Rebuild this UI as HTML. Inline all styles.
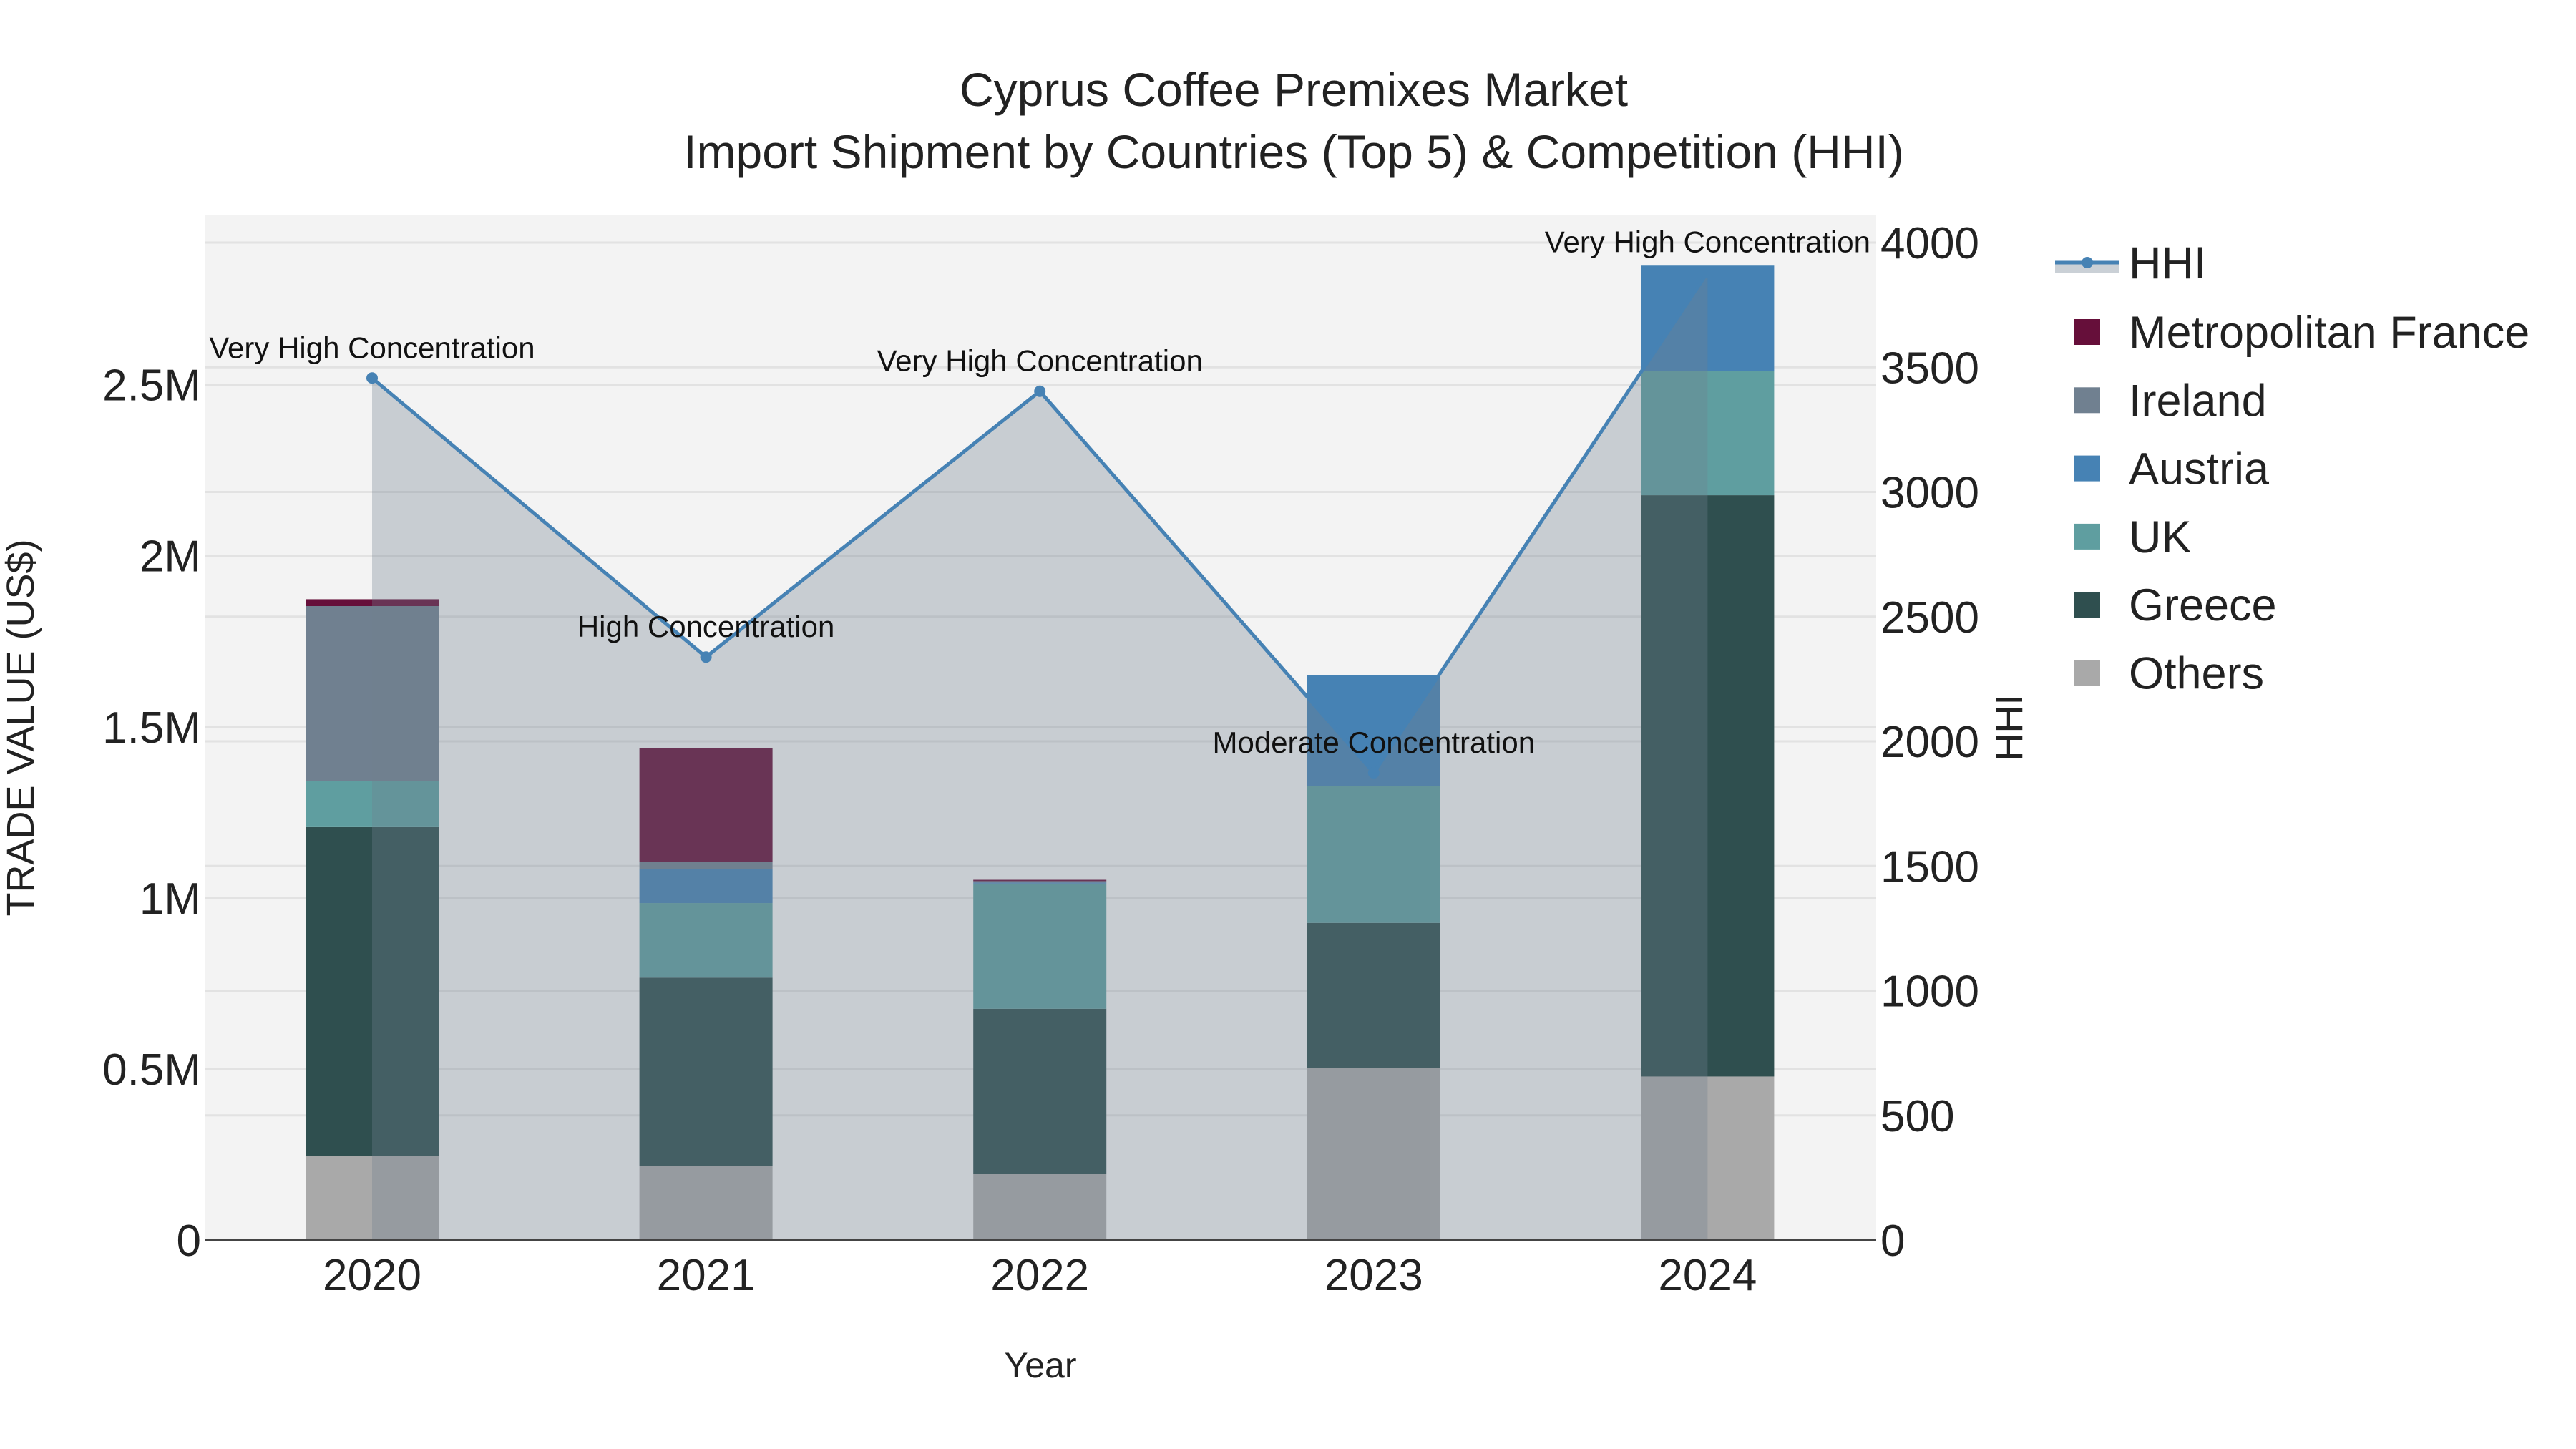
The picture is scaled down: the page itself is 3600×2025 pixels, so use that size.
<!DOCTYPE html>
<html><head><meta charset="utf-8"><style>
html,body{margin:0;padding:0;background:#fff;}
svg{display:block;font-family:"Liberation Sans",Arial,sans-serif;}
</style></head><body>
<svg id="chart" width="3600" height="2025" viewBox="0 0 3600 2025" xmlns="http://www.w3.org/2000/svg">
<rect x="286" y="300" width="2336" height="1433" fill="#f3f3f3"/>
<g id="grid"></g><g id="bars"></g><g id="area"></g><g id="axes"></g><g id="legend"></g>
<text x="1808" y="148" text-anchor="middle" font-size="66" fill="#222">Cyprus Coffee Premixes Market</text>
<text x="1808" y="235" text-anchor="middle" font-size="66" fill="#222">Import Shipment by Countries (Top 5) &amp; Competition (HHI)</text>
<text transform="translate(47,1017) rotate(-90)" text-anchor="middle" font-size="54" fill="#222">TRADE VALUE (US$)</text>
<text transform="translate(2826,1017) rotate(-90)" text-anchor="middle" font-size="54" fill="#222">HHI</text>
<text x="1454" y="1925" text-anchor="middle" font-size="50" fill="#222">Year</text>
</svg>
<script>
const years=["2020","2021","2022","2023","2024"];
const seriesNames=["Others","Greece","UK","Austria","Ireland","Metropolitan France"];
const others=[246000,217000,193000,502000,478000];
const greece=[961000,550000,483000,425000,1699000];
const uk=[135000,218000,366000,400000,362000];
const austria=[0,100000,3000,324000,309000];
const ireland=[511000,20000,4000,0,0];
const france=[20000,333000,4000,0,0];
const hhi=[3457,2338,3404,1874,3881];
const hhiLabels=["Very High Concentration","High Concentration","Very High Concentration","Moderate Concentration","Very High Concentration"];
const yTicks=[0,500000,1000000,1500000,2000000,2500000];
const yTickLabels=["0","0.5M","1M","1.5M","2M","2.5M"];
const y2Ticks=[0,500,1000,1500,2000,2500,3000,3500,4000];
const colors={"Others":"#a9a9a9","Greece":"#2f4f4f","UK":"#5f9ea0","Austria":"#4682b4","Ireland":"#708090","Metropolitan France":"#660f3a"};
const NS="http://www.w3.org/2000/svg";
const L=286,R=2622,T=300,B=1733;
const yMax=2997000,y2Max=4112;
const xs=i=>520+i*466.6;
const y=v=>B-(v/yMax)*(B-T);
const y2=v=>B-(v/y2Max)*(B-T);
function mk(tag,attrs,parent,text){const e=document.createElementNS(NS,tag);for(const k in attrs)e.setAttribute(k,attrs[k]);if(text!==undefined)e.textContent=text;parent.appendChild(e);return e;}
const grid=document.getElementById('grid'),bars=document.getElementById('bars'),area=document.getElementById('area'),axes=document.getElementById('axes'),legend=document.getElementById('legend');
yTicks.forEach((t,i)=>{
  if(t>0){const g=mk('line',{x1:L,x2:R,y1:y(t),y2:y(t),stroke:'#e2e2e2','stroke-width':3},grid);
  
  }
  const tx=mk('text',{x:281,y:y(t)+22,'text-anchor':'end','font-size':62,fill:'#222'},axes,yTickLabels[i]);
  
  
});
y2Ticks.forEach(t=>{
  if(t>0){const g=mk('line',{x1:L,x2:R,y1:y2(t),y2:y2(t),stroke:'#e2e2e2','stroke-width':3},grid);
  
  }
  const tx=mk('text',{x:2628,y:y2(t)+22,'text-anchor':'start','font-size':62,fill:'#222'},axes,String(t));
  
  
});
const data={"Others":others,"Greece":greece,"UK":uk,"Austria":austria,"Ireland":ireland,"Metropolitan France":france};
const bw=186;
years.forEach((yr,i)=>{
  let base=0;
  seriesNames.forEach(s=>{
    const v=data[s][i]; if(v<=0)return;
    const r=mk('rect',{x:xs(i)-bw/2,y:y(base+v),width:bw,height:y(base)-y(base+v),fill:colors[s]},bars);
    
    
    base+=v;
  });
  const tx=mk('text',{x:xs(i),y:1803,'text-anchor':'middle','font-size':62,fill:'#222'},axes,yr);
  
  
});
let pts=hhi.map((v,i)=>xs(i)+','+y2(v)).join(' ');
const poly=mk('polygon',{points:xs(0)+','+B+' '+pts+' '+xs(hhi.length-1)+','+B,fill:'rgba(112,128,144,0.33)'},area);


const line=mk('polyline',{points:pts,fill:'none',stroke:'#4682b4','stroke-width':5},area);


hhi.forEach((v,i)=>{
  const c=mk('circle',{cx:xs(i),cy:y2(v),r:8,fill:'#4682b4'},area);
  
  
  const t=mk('text',{x:xs(i),y:y2(v)-28,'text-anchor':'middle','font-size':42,fill:'#111'},area,hhiLabels[i]);
  
  
});
const zl=mk('line',{x1:L,x2:R,y1:B,y2:B,stroke:'#444','stroke-width':3},axes);


const lg=mk('g',{},legend);


mk('rect',{x:2872,y:367,width:90,height:14,fill:'rgba(112,128,144,0.37)'},lg);
mk('line',{x1:2872,x2:2962,y1:367,y2:367,stroke:'#4682b4','stroke-width':5},lg);
mk('circle',{cx:2917,cy:367,r:8,fill:'#4682b4'},lg);
mk('text',{x:2975,y:389,'font-size':63,fill:'#222'},lg,'HHI');
const legOrder=["Metropolitan France","Ireland","Austria","UK","Greece","Others"];
legOrder.forEach((s,k)=>{
  const cy=464+k*95.3;
  const g=mk('g',{},legend);
  
  
  mk('rect',{x:2899,y:cy-18,width:36,height:36,fill:colors[s]},g);
  mk('text',{x:2975,y:cy+22,'font-size':63,fill:'#222'},g,s);
});
</script>
</body></html>
